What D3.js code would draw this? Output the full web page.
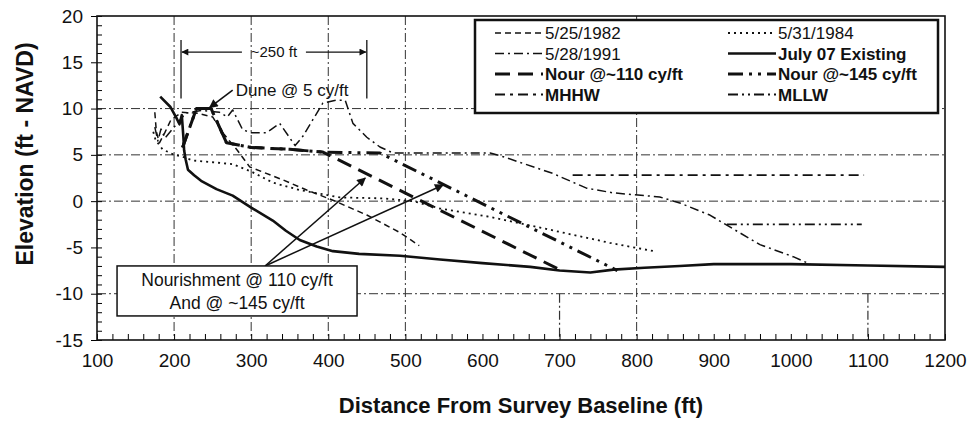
<!DOCTYPE html>
<html>
<head>
<meta charset="utf-8">
<script src="https://cdn.jsdelivr.net/npm/d3@7"></script>
<style>
    body { margin: 0; background: #fff; }
    svg text { font-family: "Liberation Sans", Arial, sans-serif; fill: #111; }
    .tick_lbl { font-size: 19px; }
    .axis_title { font-size: 22px; font-weight: bold; }
    .leg_txt { font-size: 17px; }
    .note { font-size: 15px; }
</style>
</head>
<body>
<div id="profileChart"></div>
<script>
// axis ranges and tick labels
const xTicks = [100, 200, 300, 400, 500, 600, 700, 800, 900, 1000, 1100, 1200];
const yTicks = [-15, -10, -5, 0, 5, 10, 15, 20];
const xGrid = [200, 300, 400, 500, 800];
const xGridLow = [700, 1100];
const yGrid = [10, 5, 0, -10];

// survey profiles, [distance ft, elevation ft NAVD]
const s1982 = [[175, 9.6], [177, 7.5], [181, 6.3], [188, 7.4], [196, 8.8], [210, 9.6], [230, 9.5], [250, 9.1],
    [263, 7.4], [282, 5.5], [298, 3.7], [341, 2.3], [372, 1.2], [406, 0.1], [450, -1.5], [493, -3.4], [518, -4.8]];
const s1984 = [[173, 7.5], [176, 6.6], [185, 5.6], [200, 5.0], [211, 4.8], [224, 4.4], [250, 4.2], [276, 4.0],
    [300, 3.2], [328, 2.0], [363, 1.2], [415, 0.4], [470, 0.3], [510, 0.0], [545, -0.8], [610, -1.7], [688, -3.1],
    [765, -4.5], [822, -5.4]];
const s1991 = [[175, 8.0], [179, 6.5], [183, 7.8], [188, 6.8], [195, 7.5], [205, 8.5], [215, 9.5], [235, 9.8],
    [259, 9.6], [269, 9.1], [276, 9.85], [289, 7.7], [300, 7.4], [320, 7.4], [337, 8.4], [357, 6.0], [367, 7.0],
    [393, 10.6], [410, 10.9], [422, 10.9], [432, 8.4], [450, 6.9], [467, 5.85], [484, 5.2], [610, 5.2], [627, 4.8],
    [691, 3.0], [735, 1.4], [769, 0.9], [830, 0.45], [856, -0.2], [895, -1.5], [917, -2.6], [960, -4.7],
    [1003, -6.0], [1025, -6.8]];
const july07 = [[182, 11.3], [195, 10.2], [203, 9.0], [207, 8.3], [210, 9.3], [212, 7.0], [213, 5.5], [215, 4.5],
    [218, 3.4], [226, 2.8], [235, 2.2], [255, 1.3], [276, 0.6], [300, -0.7], [328, -2.1], [345, -3.2], [363, -4.2],
    [385, -4.9], [406, -5.4], [440, -5.7], [493, -5.9], [545, -6.3], [600, -6.7], [662, -7.1], [700, -7.5],
    [740, -7.7], [770, -7.4], [810, -7.2], [856, -7.0], [900, -6.8], [1000, -6.8], [1100, -6.95], [1200, -7.1]];
const nour110 = [[211, 5.8], [229, 10.0], [248, 10.0], [268, 6.3], [300, 5.8], [350, 5.6], [393, 5.3], [700, -7.4]];
const nour145 = [[211, 5.8], [229, 10.0], [248, 10.0], [268, 6.3], [300, 5.8], [350, 5.6], [393, 5.3], [467, 5.2],
    [775, -7.5]];
const mhhw = [[717, 2.8], [1095, 2.8]];
const mllw = [[917, -2.5], [1092, -2.5]];

const seriesNames = ["5/25/1982", "5/31/1984", "5/28/1991", "July 07 Existing",
    "Nour @~110 cy/ft", "Nour @~145 cy/ft", "MHHW", "MLLW"];
const seriesData = [s1982, s1984, s1991, july07, nour110, nour145, mhhw, mllw];

// annotations in data units
const dimLine = [209, 450];     // ~250 ft span
const nourBoxArrows = [[448, 2.5], [549, 1.75]];

function init() {
    draw_profile_chart();
}

function draw_profile_chart() {
    var W = 974, H = 423;
    var curX = 97, curY = 16;
    var width = 848, height = 324;

    // line styling per series
    var styles = [
        { dash: "6,4", w: 1.5 },
        { dash: "2,4", w: 1.8 },
        { dash: "9,4,2,4", w: 1.5 },
        { dash: null, w: 2.6 },
        { dash: "15,8", w: 3 },
        { dash: "15,6,3,6,3,6", w: 3 },
        { dash: "10,5,3,5", w: 1.8 },
        { dash: "10,4,2,4,2,4", w: 1.8 }
    ];

    var svgBase = d3.select("#profileChart").append("svg")
        .attr("width", W)
        .attr("height", H);

    var defs = svgBase.append("defs");
    defs.append("marker")
        .attr("id", "arrowHead")
        .attr("viewBox", "0 0 10 10")
        .attr("refX", 9).attr("refY", 5)
        .attr("markerWidth", 8).attr("markerHeight", 7)
        .attr("markerUnits", "userSpaceOnUse")
        .attr("orient", "auto-start-reverse")
        .append("path")
        .attr("d", "M0,0 L10,5 L0,10 z")
        .attr("fill", "#111");
    defs.append("marker")
        .attr("id", "bigHead")
        .attr("viewBox", "0 0 10 10")
        .attr("refX", 9).attr("refY", 5)
        .attr("markerWidth", 11).attr("markerHeight", 9)
        .attr("markerUnits", "userSpaceOnUse")
        .attr("orient", "auto-start-reverse")
        .append("path")
        .attr("d", "M0,0 L10,5 L0,10 z")
        .attr("fill", "#111");

    var svgGroup = svgBase.append("g")
        .attr("transform", "translate(" + curX + "," + curY + ")");

    var x = d3.scaleLinear().domain([100, 1200]).range([0, width]);
    var y = d3.scaleLinear().domain([-15, 20]).range([height, 0]);

    // grid (dash-dot, as in the scanned original)
    var gridDash = "9,3,2,3";
    svgGroup.append("g").selectAll("line").data(xGrid).enter().append("line")
        .attr("x1", d => x(d)).attr("x2", d => x(d))
        .attr("y1", 0).attr("y2", height)
        .attr("stroke", "#333").attr("stroke-width", 1)
        .attr("stroke-dasharray", gridDash);
    svgGroup.append("g").selectAll("line").data(xGridLow).enter().append("line")
        .attr("x1", d => x(d)).attr("x2", d => x(d))
        .attr("y1", y(-10)).attr("y2", height)
        .attr("stroke", "#333").attr("stroke-width", 1.2)
        .attr("stroke-dasharray", gridDash);
    svgGroup.append("g").selectAll("line").data(yGrid).enter().append("line")
        .attr("x1", 0).attr("x2", width)
        .attr("y1", d => y(d)).attr("y2", d => y(d))
        .attr("stroke", "#333").attr("stroke-width", 1)
        .attr("stroke-dasharray", gridDash);

    // axes: minor ticks pointing inside, major ticks crossing out
    var xMinor = d3.range(100, 1201, 20);
    var yMinor = d3.range(-15, 21, 1);
    svgGroup.append("g")
        .attr("transform", "translate(0," + height + ")")
        .call(d3.axisTop(x).tickValues(xMinor).tickSize(6).tickFormat(""))
        .call(g => g.select(".domain").remove());
    svgGroup.append("g")
        .attr("class", "xticks")
        .attr("transform", "translate(0," + height + ")")
        .call(d3.axisBottom(x).tickValues(xTicks).tickSize(0).tickPadding(14).tickFormat(d => String(d)))
        .call(g => g.select(".domain").remove())
        .selectAll("text").attr("class", "tick_lbl").attr("font-size", null).attr("font-family", null);

    svgGroup.append("g")
        .call(d3.axisRight(y).tickValues(yMinor).tickSize(5).tickFormat(""))
        .call(g => g.select(".domain").remove());
    svgGroup.append("g")
        .call(d3.axisLeft(y).tickValues(yTicks).tickSize(6).tickPadding(8).tickFormat(d => String(d)))
        .call(g => g.select(".domain").remove())
        .selectAll("text").attr("class", "tick_lbl").attr("font-size", null).attr("font-family", null);

    // frame
    svgGroup.append("rect")
        .attr("width", width).attr("height", height)
        .attr("fill", "none").attr("stroke", "#111").attr("stroke-width", 1.6);

    // profile lines
    var line = d3.line().x(d => x(d[0])).y(d => y(d[1]));
    svgGroup.append("g").selectAll("path").data(seriesData).enter().append("path")
        .attr("d", line)
        .attr("fill", "none")
        .attr("stroke", "#111")
        .attr("stroke-linejoin", "round")
        .attr("stroke-width", (d, i) => styles[i].w)
        .attr("stroke-dasharray", (d, i) => styles[i].dash);

    // legend
    var lg = svgGroup.append("g").attr("transform", "translate(" + (475 - curX) + "," + (20 - curY) + ")");
    lg.append("rect").attr("width", 463).attr("height", 93)
        .attr("fill", "#fff").attr("stroke", "#111").attr("stroke-width", 2.5);
    var leg = lg.selectAll(".leg").data(seriesNames).enter().append("g")
        .attr("transform", (d, i) => "translate(" + (i % 2 ? 253 : 20) + "," + (13 + Math.floor(i / 2) * 20.5) + ")");
    leg.append("line")
        .attr("x1", 0).attr("x2", 48)
        .attr("stroke", "#111")
        .attr("stroke-width", (d, i) => styles[i].w)
        .attr("stroke-dasharray", (d, i) => styles[i].dash);
    leg.append("text")
        .attr("class", "leg_txt")
        .attr("x", 50).attr("dy", "0.36em")
        .attr("font-weight", (d, i) => i >= 3 ? "bold" : null)
        .text(d => d);

    // ~250 ft dimension
    var dimTop = y(17.4), dimBot = y(11.1), dimY = y(16.1);
    svgGroup.selectAll(".dimv").data(dimLine).enter().append("line")
        .attr("x1", d => x(d)).attr("x2", d => x(d))
        .attr("y1", dimTop).attr("y2", dimBot)
        .attr("stroke", "#111").attr("stroke-width", 1.3);
    var mid = (x(dimLine[0]) + x(dimLine[1])) / 2;
    svgGroup.append("line")
        .attr("x1", mid - 32).attr("x2", x(dimLine[0]) + 1)
        .attr("y1", dimY).attr("y2", dimY)
        .attr("stroke", "#111").attr("stroke-width", 1.3)
        .attr("marker-end", "url(#arrowHead)");
    svgGroup.append("line")
        .attr("x1", mid + 32).attr("x2", x(dimLine[1]) - 1)
        .attr("y1", dimY).attr("y2", dimY)
        .attr("stroke", "#111").attr("stroke-width", 1.3)
        .attr("marker-end", "url(#arrowHead)");
    svgGroup.append("text").attr("class", "note")
        .attr("x", mid).attr("y", dimY).attr("dy", "0.35em")
        .attr("text-anchor", "middle").text("~250 ft");

    // dune note
    svgGroup.append("text").attr("class", "note").style("font-size", "17px")
        .attr("x", x(280)).attr("y", y(12.0)).attr("dy", "0.35em")
        .text("Dune @ 5 cy/ft");
    svgGroup.append("line")
        .attr("x1", x(276)).attr("y1", y(12.0))
        .attr("x2", x(246)).attr("y2", y(10.1))
        .attr("stroke", "#111").attr("stroke-width", 1.6)
        .attr("marker-end", "url(#bigHead)");

    // nourishment note box
    var bx = x(126), by = y(-7.0), bw = 240, bh = 50;
    nourBoxArrows.forEach(function (p) {
        svgGroup.append("line")
            .attr("x1", x(318)).attr("y1", by)
            .attr("x2", x(p[0])).attr("y2", y(p[1]))
            .attr("stroke", "#111").attr("stroke-width", 1.5)
            .attr("marker-end", "url(#bigHead)");
    });
    svgGroup.append("rect")
        .attr("x", bx).attr("y", by).attr("width", bw).attr("height", bh)
        .attr("fill", "#fff").attr("stroke", "#111").attr("stroke-width", 1.5);
    svgGroup.append("text").attr("class", "note").style("font-size", "17.5px")
        .attr("x", bx + bw / 2).attr("y", by + 20).attr("text-anchor", "middle")
        .text("Nourishment @ 110 cy/ft");
    svgGroup.append("text").attr("class", "note").style("font-size", "17.5px")
        .attr("x", bx + bw / 2).attr("y", by + 43).attr("text-anchor", "middle")
        .text("And @ ~145 cy/ft");

    // axis titles
    svgBase.append("text").attr("class", "axis_title")
        .attr("x", 521).attr("y", 413).attr("text-anchor", "middle")
        .text("Distance From Survey Baseline (ft)");
    svgBase.append("text").attr("class", "axis_title")
        .attr("transform", "translate(33,154) rotate(-90)")
        .attr("text-anchor", "middle")
        .style("font-size", "23px")
        .text("Elevation (ft - NAVD)");
}

init();
</script>
</body>
</html>
